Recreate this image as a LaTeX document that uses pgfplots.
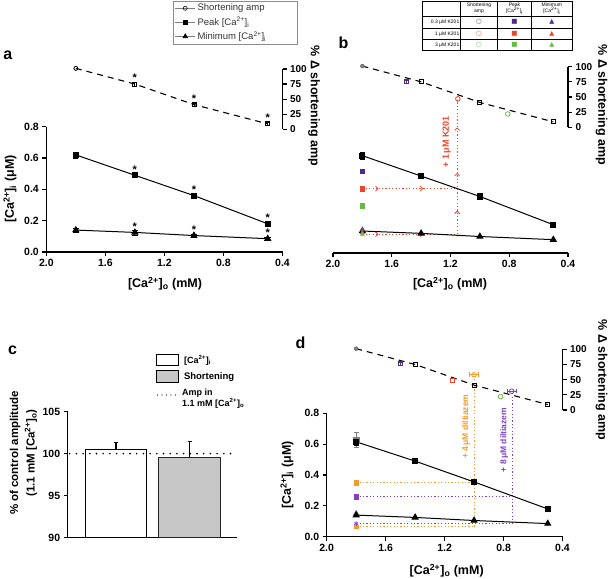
\documentclass[border=0pt]{standalone}
\usepackage{pgfplots}
\pgfplotsset{compat=1.18}
\usepackage{fontspec}
\setmainfont{Liberation Sans}
\newfontfamily\sym{DejaVu Sans}
\usetikzlibrary{arrows.meta}
\definecolor{kpurple}{HTML}{4B2C8E}
\definecolor{kred}{HTML}{E8452C}
\definecolor{kgreen}{HTML}{66BB44}
\definecolor{dorange}{HTML}{F29A2E}
\definecolor{dpurple}{HTML}{8040C0}
\newcommand{\Cai}{[Ca\textsuperscript{2+}]\textsubscript{i}}
\newcommand{\Cao}{[Ca\textsuperscript{2+}]\textsubscript{o}}
\newcommand{\lab}{\bfseries\fontsize{12.5}{14}\selectfont}
\pgfplotsset{
  base/.style={scale only axis, anchor=south west, clip=false,
    axis line style={line width=1.2pt, black}, tick style={line width=1.2pt, black},
    major tick length=4pt, tick align=outside,
    tick label style={font=\bfseries\fontsize{10.5}{12}\selectfont},
    /pgf/number format/assume math mode=true},
  xax/.style={base, x dir=reverse, xmin=0.4, xmax=2.0, ymin=0, ymax=0.8,
    axis x line*=bottom, xtick={0.4,0.8,1.2,1.6,2.0},
    xticklabel style={/pgf/number format/.cd, fixed, fixed zerofill, precision=1, /tikz/.cd}},
  yleft/.style={axis y line*=left, ytick={0,0.2,0.4,0.6,0.8},
    yticklabel style={/pgf/number format/.cd, fixed, fixed zerofill, precision=1, /tikz/.cd}},
  shax/.style={base, x dir=reverse, xmin=0.4, xmax=2.0, ymin=0, ymax=100,
    hide x axis, axis y line*=right, ytick={0,25,50,75,100},
    yticklabel style={font=\bfseries\fontsize{10}{12}\selectfont}},
  pk/.style={black, line width=1pt, mark=square*, mark size=2.6pt, mark options={solid}},
  mn/.style={black, line width=1pt, mark=triangle*, mark size=3.3pt, mark options={solid}},
  shl/.style={black, line width=1.1pt, dash pattern=on 6pt off 5pt, mark=none},
  osq/.style={only marks, mark=square, mark size=2pt, mark options={solid, fill=white, line width=0.8pt}},
  ocirc/.style={only marks, mark=o, mark size=2.3pt, mark options={solid, fill=white, line width=0.8pt}},
  star/.style={only marks, mark=text, text mark={*}, text mark as node=true, text mark style={font=\bfseries\fontsize{11}{11}\selectfont, yshift=6pt}},
  dots/.style={line width=1pt, dash pattern=on 1.2pt off 2.2pt},
  arr/.style={dots, -{Straight Barb[length=2.5pt, width=5pt, line width=0.8pt]}},
  ebar/.style={error bars/.cd, y dir=both, y explicit, error bar style={line width=0.8pt}, /pgfplots/.cd},
}
\begin{document}
\begin{tikzpicture}[x=1pt, y=1pt]
\useasboundingbox (0pt,0pt) rectangle (609pt,578pt);

% ================= Panel a =================
\begin{axis}[xax, yleft, at={(46.3pt,326pt)}, width=236.2pt, height=125.3pt,
  legend style={at={(axis description cs:0.535,2.005)}, anchor=north west, draw=black!45, line width=0.6pt,
    font=\fontsize{9.5}{11}\selectfont, text=black!80, inner xsep=2pt, inner ysep=1pt, row sep=0.5pt},
  legend cell align=left,
  legend image code/.code={\draw[mark repeat=2, mark phase=2, #1] plot coordinates {(0pt,0pt) (10pt,0pt) (20pt,0pt)};}]
\addlegendimage{black!50, line width=0.6pt, mark=o, mark size=2pt, mark options={black, fill=white, line width=0.6pt}}
\addlegendentry{\makebox[96pt][l]{Shortening amp}}
\addlegendimage{black!50, line width=0.6pt, mark=square*, mark size=2pt, mark options={black}}
\addlegendentry{Peak \Cai}
\addlegendimage{black!50, line width=0.6pt, mark=triangle*, mark size=2.6pt, mark options={black}}
\addlegendentry{Minimum \Cai}
\addplot[forget plot, pk, ebar] coordinates {(1.8,0.62) +- (0,0.02) (1.4,0.49) +- (0,0.01) (1.0,0.36) +- (0,0.01) (0.5,0.18) +- (0,0.01)};
\addplot[forget plot, mn, ebar] coordinates {(1.8,0.14) +- (0,0.015) (1.4,0.125) +- (0,0.015) (1.0,0.105) +- (0,0.01) (0.5,0.085) +- (0,0.01)};
\addplot[forget plot, star] coordinates {(1.4,0.49) (1.0,0.36) (0.5,0.18) (1.4,0.125) (1.0,0.105) (0.5,0.085)};
\end{axis}
\begin{axis}[shax, at={(46.3pt,448.7pt)}, width=236.2pt, height=60.3pt]
\addplot[shl] coordinates {(1.8,101) (1.4,75) (1.0,41) (0.5,9)};
\addplot[osq, black, ebar] coordinates {(1.4,75) +- (0,3) (1.0,41) +- (0,3) (0.5,9) +- (0,3)};
\addplot[ocirc, black, mark size=2pt] coordinates {(1.8,101)};
\addplot[star] coordinates {(1.4,75) (1.0,41) (0.5,9)};
\end{axis}

% ================= Panel b =================
\begin{axis}[xax, hide y axis, at={(333pt,325pt)}, width=235pt, height=125.6pt]
\addplot[arr, kred] coordinates {(1.8,0.41) (1.69,0.41)};
\addplot[arr, kred] coordinates {(1.69,0.41) (1.385,0.41)};
\addplot[dots, kred] coordinates {(1.385,0.41) (1.155,0.41)};
\addplot[arr, kred] coordinates {(1.8,0.12) (1.69,0.12)};
\addplot[arr, kred] coordinates {(1.69,0.12) (1.385,0.12)};
\addplot[dots, kred] coordinates {(1.385,0.12) (1.155,0.12)};
\addplot[arr, kred] coordinates {(1.155,0.12) (1.155,0.27)};
\addplot[arr, kred] coordinates {(1.155,0.27) (1.155,0.51)};
\addplot[arr, kred] coordinates {(1.155,0.51) (1.155,0.80)};
\addplot[dots, kred] coordinates {(1.155,0.80) (1.155,0.975)};
\addplot[pk, ebar] coordinates {(1.8,0.62) +- (0,0.02) (1.4,0.49) +- (0,0.01) (1.0,0.36) +- (0,0.01) (0.5,0.18) +- (0,0.01)};
\addplot[mn] coordinates {(1.8,0.14) (1.4,0.125) (1.0,0.105) (0.5,0.085)};
\addplot[only marks, mark=square*, mark size=2.2pt, kpurple] coordinates {(1.8,0.52)};
\addplot[only marks, mark=square*, mark size=2.2pt, kred] coordinates {(1.8,0.41)};
\addplot[only marks, mark=square*, mark size=2.2pt, kgreen] coordinates {(1.8,0.30)};
\addplot[only marks, mark=triangle*, mark size=2.6pt, kpurple!60!gray] coordinates {(1.8,0.15)};
\addplot[only marks, mark=triangle*, mark size=2.4pt, kred] coordinates {(1.8,0.13)};
\addplot[only marks, mark=triangle*, mark size=2.4pt, kgreen] coordinates {(1.8,0.12)};
\node[rotate=90, text=kred, font=\bfseries\fontsize{9}{10}\selectfont] at (axis cs:1.226,0.707) {+ 1\,μM K201};
\end{axis}
\begin{axis}[shax, at={(333pt,450.7pt)}, width=235pt, height=60.6pt]
\addplot[shl] coordinates {(1.8,101) (1.4,75) (1.0,41) (0.5,9)};
\addplot[osq, black] coordinates {(1.4,75) (1.0,41) (0.5,9)};
\addplot[only marks, mark=*, mark size=2pt, gray, mark options={draw=black!60}] coordinates {(1.8,101)};
\addplot[osq, kpurple, ebar] coordinates {(1.5,75) +- (0,3)};
\addplot[ocirc, kred] coordinates {(1.15,47)};
\addplot[ocirc, kgreen] coordinates {(0.81,22)};
\end{axis}

% table legend in b
\draw[line width=0.6pt] (422pt,577pt) rectangle (572pt,527.5pt);
\foreach \xx in {460.7,497.3,531.7} \draw[line width=0.5pt] (\xx pt,577pt) -- (\xx pt,527.5pt);
\foreach \yy in {562,550,538.5} \draw[line width=0.5pt] (422pt,\yy pt) -- (572pt,\yy pt);
\begin{scope}[every node/.style={font=\fontsize{5}{5.6}\selectfont, align=center, inner sep=0pt}]
\node at (479pt,569.5pt) {Shortening\\amp};
\node at (514.5pt,569.5pt) {Peak\\\Cai};
\node at (551.8pt,569.5pt) {Minimum\\\Cai};
\node[anchor=east] at (459.5pt,556pt) {0.3 μM K201};
\node[anchor=east] at (459.5pt,544.2pt) {1 μM K201};
\node[anchor=east] at (459.5pt,533pt) {3 μM K201};
\end{scope}
\begin{scope}[every node/.style={font=\sym\fontsize{6.5}{7}\selectfont, inner sep=0pt}]
\node[text=kpurple] at (479pt,556pt) {○};
\node[text=kpurple] at (514.5pt,556pt) {■};
\node[text=kpurple] at (551.8pt,556pt) {▲};
\node[text=kred] at (479pt,544.2pt) {○};
\node[text=kred] at (514.5pt,544.2pt) {■};
\node[text=kred] at (551.8pt,544.2pt) {▲};
\node[text=kgreen] at (479pt,533pt) {○};
\node[text=kgreen] at (514.5pt,533pt) {■};
\node[text=kgreen] at (551.8pt,533pt) {▲};
\end{scope}

% ================= Panel c =================
\begin{axis}[scale only axis, anchor=south west, at={(67.7pt,40.5pt)}, width=169.3pt, height=125.8pt,
  xmin=0, xmax=169.3, ymin=90, ymax=105, axis x line*=bottom, axis y line*=left, xtick=\empty,
  ytick={90,95,100,105}, axis line style={line width=1.2pt, black}, tick style={line width=1.2pt, black},
  major tick length=4pt, tick align=outside,
  tick label style={font=\bfseries\fontsize{10.5}{12}\selectfont},
  /pgf/number format/assume math mode=true]
\addplot[ybar, bar width=61.5pt, bar shift=0pt, fill=white, draw=black, line width=1.2pt,
  error bars/.cd, y dir=plus, y explicit, error bar style={line width=1.2pt, black}] coordinates {(48.2,100.5) +- (0,0.85)};
\addplot[ybar, bar width=61.5pt, bar shift=0pt, fill=black!22, draw=black!85, line width=1.2pt,
  error bars/.cd, y dir=plus, y explicit, error bar style={line width=1.2pt, black}] coordinates {(121.8,99.5) +- (0,2.0)};
\addplot[black, line width=1.8pt, line cap=round, dash pattern=on 0pt off 6.7pt] coordinates {(2,100) (169.3,100)};
\end{axis}
\draw[line width=1pt, fill=white] (156.7pt,223.7pt) rectangle (178.3pt,212pt);
\node[anchor=west, font=\bfseries\fontsize{9}{10}\selectfont] at (180.5pt,217.8pt) {\Cai};
\draw[line width=1pt, fill=black!22] (156.7pt,207pt) rectangle (178.3pt,195.3pt);
\node[anchor=west, font=\bfseries\fontsize{9.5}{10}\selectfont] at (180.5pt,201.2pt) {Shortening};
\draw[line width=1.3pt, line cap=round, dash pattern=on 0pt off 4.5pt] (157.5pt,183pt) -- (177pt,183pt);
\node[anchor=north west, align=left, font=\bfseries\fontsize{9}{11}\selectfont, inner sep=0pt] at (182pt,189pt) {Amp in\\1.1 mM \Cao};
\node[rotate=90, align=center, font=\bfseries\fontsize{11.5}{16.5}\selectfont] at (23.5pt,125pt) {\% of control amplitude\\(1.1 mM \Cao)};

% ================= Panel d =================
\begin{axis}[xax, yleft, at={(326.7pt,41.3pt)}, width=235.8pt, height=123.4pt]
\addplot[dots, dorange] coordinates {(1.8,0.35) (1.0,0.35)};
\addplot[dots, dorange] coordinates {(1.8,0.065) (1.0,0.065)};
\addplot[dots, dorange] coordinates {(1.0,0.065) (1.0,1.04)};
\addplot[dots, dpurple] coordinates {(1.8,0.26) (0.74,0.26)};
\addplot[dots, dpurple] coordinates {(1.8,0.085) (0.74,0.085)};
\addplot[dots, dpurple] coordinates {(0.74,0.085) (0.74,0.93)};
\addplot[only marks, mark=square*, mark size=2.6pt, gray, ebar] coordinates {(1.8,0.63) +- (0,0.05)};
\addplot[pk, ebar] coordinates {(1.8,0.615) +- (0,0.02) (1.4,0.49) +- (0,0.01) (1.0,0.355) +- (0,0.01) (0.5,0.18) +- (0,0.01)};
\addplot[only marks, mark=triangle*, mark size=3.3pt, gray] coordinates {(1.8,0.15)};
\addplot[mn] coordinates {(1.8,0.14) (1.4,0.125) (1.0,0.105) (0.5,0.085)};
\addplot[only marks, mark=square*, mark size=2.3pt, dorange] coordinates {(1.8,0.35)};
\addplot[only marks, mark=square*, mark size=2.3pt, dpurple] coordinates {(1.8,0.26)};
\addplot[only marks, mark=square*, mark size=1.6pt, dorange] coordinates {(1.8,0.065)};
\addplot[only marks, mark=asterisk, mark size=2.2pt, line width=0.8pt, dpurple] coordinates {(1.8,0.085)};
\node[rotate=90, text=dorange, font=\bfseries\fontsize{8.5}{10}\selectfont] at (axis cs:1.056,0.713) {+ 4\,μM diltiazem};
\node[rotate=90, text=dpurple, font=\bfseries\fontsize{8.5}{10}\selectfont] at (axis cs:0.796,0.627) {+ 8\,μM diltiazem};
\end{axis}
\begin{axis}[shax, at={(326.7pt,168pt)}, width=235.8pt, height=60.7pt]
\addplot[shl] coordinates {(1.8,101) (1.4,75) (1.0,41) (0.5,9)};
\addplot[osq, black] coordinates {(1.4,75) (1.0,41) (0.5,9)};
\addplot[only marks, mark=*, mark size=2pt, gray, mark options={draw=black!60}] coordinates {(1.8,101)};
\addplot[osq, kpurple, ebar] coordinates {(1.5,76) +- (0,3)};
\addplot[osq, kred] coordinates {(1.15,48)};
\addplot[ocirc, kgreen] coordinates {(0.82,22)};
\addplot[ocirc, dorange, error bars/.cd, x dir=both, x explicit, error bar style={line width=0.8pt}] coordinates {(1.0,58) +- (0.03,0)};
\addplot[ocirc, dpurple, error bars/.cd, x dir=both, x explicit, error bar style={line width=0.8pt}] coordinates {(0.745,31) +- (0.03,0)};
\end{axis}

% ================= labels =================
\node[font=\bfseries\fontsize{16}{16}\selectfont] at (7.7pt,523pt) {a};
\node[font=\bfseries\fontsize{16}{16}\selectfont] at (343.5pt,535pt) {b};
\node[font=\bfseries\fontsize{16}{16}\selectfont] at (12.5pt,228pt) {c};
\node[font=\bfseries\fontsize{16}{16}\selectfont] at (300.5pt,235pt) {d};
\node[rotate=90, font=\lab] at (10pt,389pt) {\Cai\ (μM)};
\node[font=\lab] at (165pt,294pt) {\Cao\ (mM)};
\node[font=\lab] at (450pt,294pt) {\Cao\ (mM)};
\node[rotate=-90, font=\lab] at (314pt,472pt) {\% Δ shortening amp};
\node[rotate=-90, font=\lab] at (601.5pt,473pt) {\% Δ shortening amp};
\node[rotate=90, font=\lab] at (287pt,103pt) {\Cai\ (μM)};
\node[font=\lab] at (446.7pt,7pt) {\Cao\ (mM)};
\node[rotate=-90, font=\lab] at (601.5pt,198pt) {\% Δ shortening amp};
\end{tikzpicture}
\end{document}
